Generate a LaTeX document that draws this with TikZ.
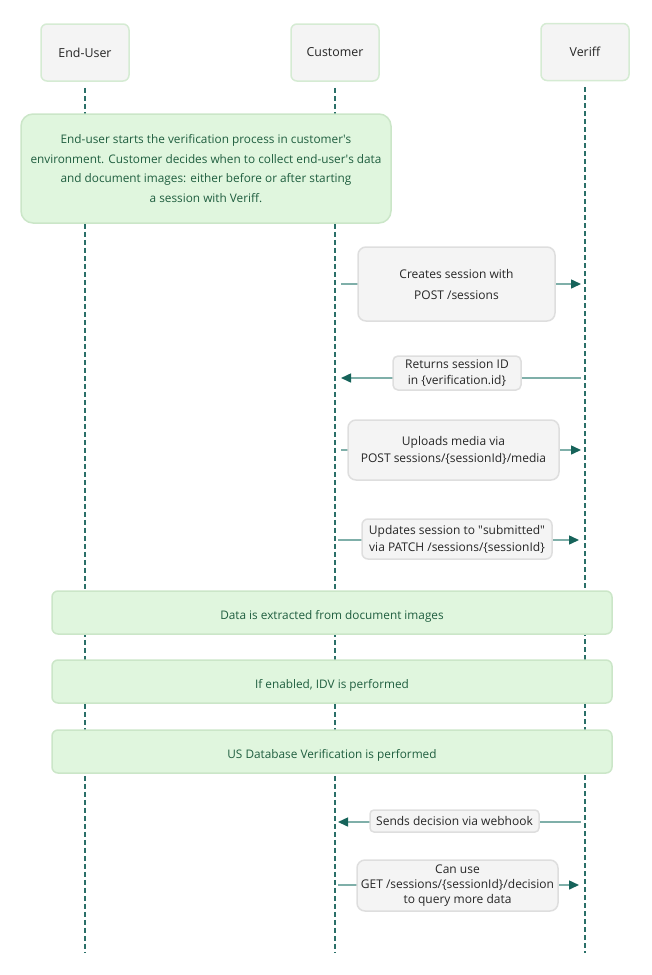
\documentclass[tikz,border=0pt]{standalone}
\usepackage{fontspec}
\setmainfont{Open Sans}
\usepackage{tikz}
\usepackage{xcolor}
\usetikzlibrary{arrows.meta, calc, positioning}
\definecolor{lifeteal}{HTML}{2A6F68}
\definecolor{tipteal}{HTML}{16635A}
\definecolor{lineteal}{HTML}{7FAFA9}
\definecolor{hdrfill}{HTML}{F4F4F4}
\definecolor{hdredge}{HTML}{D5EBD3}
\definecolor{notefill}{HTML}{E0F6DE}
\definecolor{noteedge}{HTML}{CBE6C8}
\definecolor{notetext}{HTML}{1F5E3F}
\definecolor{msgedge}{HTML}{DEDEDE}

\begin{document}
\begin{tikzpicture}[x=1pt, y=-1pt,
    actor/.style={draw=hdredge, fill=hdrfill, line width=1.5pt, rounded corners=6pt, minimum width=88pt, minimum height=57pt, inner sep=0pt, font=\fontsize{12.4}{14}\selectfont, text=black!85},
    lifeline/.style={draw=lifeteal, line width=1.6pt, dash pattern=on 5pt off 3pt},
    notebox/.style={draw=noteedge, fill=notefill, line width=1.5pt, rounded corners=12pt, inner sep=0pt, align=center, text=notetext, font=\fontsize{11.8}{19.5}\selectfont},
    phase/.style={notebox, minimum width=560pt, minimum height=43pt, rounded corners=6pt, text height=15pt, text depth=2pt},
    msgbox/.style={draw=msgedge, fill=hdrfill, line width=1.5pt, rounded corners=8pt, inner sep=0pt, align=center, text=black!85, font=\fontsize{12}{17}\selectfont},
    msg/.style={draw=lineteal, line width=1.5pt, -{Triangle[length=10pt, width=9pt, color=tipteal]}}]
  \useasboundingbox (0,0) rectangle (651,975);
  \node[actor] (user) at (85, 52.5) {End-User};
  \node[actor] (cust) at (335, 52.5) {Customer};
  \node[actor] (veriff) at (585, 52) {Veriff};
  \coordinate (userend) at (85, 953);
  \coordinate (custend) at (335, 953);
  \coordinate (veriffend) at (585, 953);
  \draw[lifeline] (user.south) ++(0,6) -- (userend);
  \draw[lifeline] (cust.south) ++(0,6) -- (custend);
  \draw[lifeline] (veriff.south) ++(0,6) -- (veriffend);

  \node[notebox, minimum width=370pt, minimum height=109pt] (start) at (206, 168.5)
    {End-user starts the verification process in customer\textquotesingle s\\ environment. Customer decides when to collect end-user\textquotesingle s data\\ and document images: either before or after starting\\ a session with Veriff.};

  \coordinate (c1) at (335, 284);  \coordinate (v1) at (585, 284);
  \coordinate (c2) at (335, 378);  \coordinate (v2) at (585, 378);
  \coordinate (c3) at (335, 450);  \coordinate (v3) at (585, 450);
  \coordinate (c4) at (335, 540);  \coordinate (v4) at (585, 540);
  \coordinate (c5) at (335, 822);  \coordinate (v5) at (585, 822);
  \coordinate (c6) at (335, 885);  \coordinate (v6) at (585, 885);
  \draw[msg, shorten <=6pt, shorten >=4pt] (c1) -- (v1);
  \draw[msg, shorten <=4pt, shorten >=6pt] (v2) -- (c2);
  \draw[msg, shorten <=6pt, shorten >=4pt] (c3) -- (v3);
  \draw[msg, shorten <=3pt, shorten >=6pt] (c4) -- (v4);
  \draw[msg, shorten <=4pt, shorten >=3pt] (v5) -- (c5);
  \draw[msg, shorten <=3pt, shorten >=6pt] (c6) -- (v6);

  \node[msgbox, minimum width=197pt, minimum height=74pt, font=\fontsize{12}{21}\selectfont] (create) at (456.5, 284) {Creates session with\\ POST /sessions};
  \node[msgbox, minimum width=128pt, minimum height=34pt, rounded corners=5pt, font=\fontsize{12}{15.5}\selectfont] (returns) at (457, 373) {Returns session ID\\ in \{verification.id\}};
  \node[msgbox, minimum width=211pt, minimum height=60pt] (upload) at (453.5, 450) {Uploads media via\\ POST sessions/\{sessionId\}/media};
  \node[msgbox, minimum width=190pt, minimum height=40pt, rounded corners=6pt, font=\fontsize{12}{17}\selectfont] (submit) at (457, 539) {Updates session to \textquotedbl submitted\textquotedbl\\ via PATCH /sessions/\{sessionId\}};

  \node[phase] (extract) at (332, 612.5) {Data is extracted from document images};
  \node[phase] (idv) at (332, 681.5) {If enabled, IDV is performed};
  \node[phase] (usdb) at (332, 751.5) {US Database Verification is performed};

  \node[msgbox, minimum width=169pt, minimum height=22pt, rounded corners=4pt] (webhook) at (454.5, 821) {Sends decision via webhook};
  \node[msgbox, minimum width=201pt, minimum height=51pt, font=\fontsize{12}{15}\selectfont] (query) at (457.5, 885.5) {Can use\\ GET /sessions/\{sessionId\}/decision\\ to query more data};
\end{tikzpicture}
\end{document}
